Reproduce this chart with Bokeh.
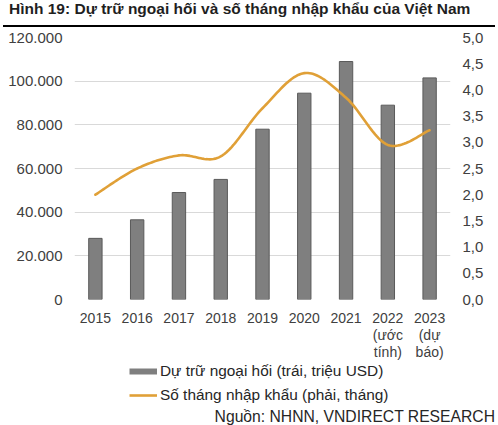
import numpy as np
from bokeh.plotting import figure
from bokeh.models import (Range1d, LinearAxis, FixedTicker, Legend, LegendItem, Div)
from bokeh.layouts import column
from bokeh.embed import file_html
from bokeh.resources import INLINE

# ---------------- data ----------------
years = ["2015", "2016", "2017", "2018", "2019", "2020", "2021",
         "2022\n(ước\ntính)", "2023\n(dự\nbáo)"]
reserves = [28000, 36500, 49000, 55000, 78000, 94500, 109000, 89000, 101500]
import_months = [2.0, 2.5, 2.75, 2.73, 3.65, 4.32, 3.85, 2.95, 3.23]

left_ticks = [0, 20000, 40000, 60000, 80000, 100000, 120000]
left_labels = ["0", "20.000", "40.000", "60.000", "80.000", "100.000", "120.000"]
right_ticks = [0.0, 0.5, 1.0, 1.5, 2.0, 2.5, 3.0, 3.5, 4.0, 4.5, 5.0]
right_labels = ["0,0", "0,5", "1,0", "1,5", "2,0", "2,5", "3,0", "3,5", "4,0", "4,5", "5,0"]

title_text = "Hình 19: Dự trữ ngoại hối và số tháng nhập khẩu của Việt Nam"
bar_label = "Dự trữ ngoại hối (trái, triệu USD)"
line_label = "Số tháng nhập khẩu (phải, tháng)"
source_text = "Nguồn: NHNN, VNDIRECT RESEARCH"

FONT = "Liberation Sans"
TXT = "#404040"
BAR = "#7f7f7f"
BAR_EDGE = "#5a5a5a"
LINE = "#E0A037"

idx = list(range(len(years)))


def smooth(xs, ys, n=24):
    P = np.column_stack([np.asarray(xs, float), np.asarray(ys, float)])
    out = []
    m = len(P)
    for i in range(m - 1):
        p0 = P[i - 1] if i > 0 else P[i]
        p1 = P[i]
        p2 = P[i + 1]
        p3 = P[i + 2] if i + 2 < m else P[i + 1]
        c1 = p1 + (p2 - p0) / 6.0
        c2 = p2 - (p3 - p1) / 6.0
        t = np.linspace(0, 1, n)[:, None]
        seg = ((1 - t) ** 3) * p1 + 3 * ((1 - t) ** 2) * t * c1 + 3 * (1 - t) * t ** 2 * c2 + t ** 3 * p2
        if i > 0:
            seg = seg[1:]
        out.append(seg)
    out = np.vstack(out)
    return out[:, 0], out[:, 1]


# ---------------- title block ----------------
head = Div(
    text=(f"<div style=\"padding:0 0 0 9px;font:bold 15.5px '{FONT}',Arial,sans-serif;"
          f"line-height:18px;color:#1f1f1f;white-space:nowrap\">{title_text}</div>"),
    width=498, height=25, margin=0,
)
rule = Div(text="", width=492, height=2, margin=(0, 0, 0, 3),
           styles={"background-color": "#000000"})

# ---------------- main chart ----------------
p = figure(width=498, height=335, output_backend="svg", toolbar_location=None,
           x_range=Range1d(-0.5, 8.5), y_range=Range1d(0, 120000),
           min_border_left=74, min_border_right=48, min_border_top=10,
           min_border_bottom=60, margin=0)
p.outline_line_color = None
p.background_fill_color = "white"
p.border_fill_color = "white"
p.extra_y_ranges = {"right": Range1d(0, 5)}

p.xgrid.grid_line_color = None
p.ygrid.grid_line_color = "#d9d9d9"
p.ygrid.grid_line_width = 1

bars = p.vbar(x=idx, top=reserves, width=0.32, fill_color=BAR,
              line_color=BAR_EDGE, line_width=1)

sx, sy = smooth(idx, import_months)
ln = p.line(sx, sy, y_range_name="right", line_color=LINE, line_width=2.6,
            line_cap="round", line_join="round")

xa = p.xaxis[0]
xa.ticker = FixedTicker(ticks=idx)
xa.major_label_overrides = {i: lab for i, lab in zip(idx, years)}

ya = p.yaxis[0]
ya.ticker = FixedTicker(ticks=left_ticks)
ya.major_label_overrides = {t: lab for t, lab in zip(left_ticks, left_labels)}

ra = LinearAxis(y_range_name="right", ticker=FixedTicker(ticks=right_ticks))
ra.major_label_overrides = {t: lab for t, lab in zip(right_ticks, right_labels)}
p.add_layout(ra, "right")

for ax, st, fs in ((xa, 10, "14px"), (ya, 12, "15px"), (ra, 12, "15px")):
    ax.axis_line_color = None
    ax.major_tick_line_color = None
    ax.minor_tick_line_color = None
    ax.major_tick_out = 0
    ax.major_tick_in = 0
    ax.major_label_standoff = st
    ax.major_label_text_font = FONT
    ax.major_label_text_font_size = fs
    ax.major_label_text_color = TXT
xa.major_label_text_line_height = 1.07

# ---------------- legend strip ----------------
q = figure(width=498, height=44, output_backend="svg", toolbar_location=None,
           x_range=Range1d(0, 1), y_range=Range1d(0, 1),
           min_border_left=74, min_border_right=48, min_border_top=0,
           min_border_bottom=0, margin=0)
q.axis.visible = False
q.grid.visible = False
q.outline_line_color = None
q.background_fill_color = "white"
q.border_fill_color = "white"

# proxy renderers (kept outside the visible range) that only feed the legend swatches
proxy_bar = q.line(x=[0, 1], y=[-5, -5], line_color=BAR, line_width=6)
proxy_line = q.line(x=[0, 1], y=[-5, -5], line_color=LINE, line_width=2.6)
legend = Legend(items=[LegendItem(label=bar_label, renderers=[proxy_bar]),
                       LegendItem(label=line_label, renderers=[proxy_line])],
                location=(55, 2), orientation="vertical",
                glyph_width=28, glyph_height=18, label_height=18, spacing=6,
                padding=0, margin=0, label_standoff=3,
                background_fill_alpha=0, border_line_alpha=0,
                label_text_font=FONT, label_text_font_size="15.4px",
                label_text_color="#262626")
q.add_layout(legend, "center")

# ---------------- source line ----------------
src = Div(
    text=(f"<div style=\"display:block;width:495px;padding:2px 0 0 0;text-align:right;"
          f"font:15.7px '{FONT}',Arial,sans-serif;line-height:17px;color:#262626;"
          f"white-space:nowrap\">{source_text}</div>"),
    width=498, height=19, margin=0,
)

layout = column(head, rule, p, q, src, spacing=0)
open("out.html", "w").write(file_html(layout, INLINE))
